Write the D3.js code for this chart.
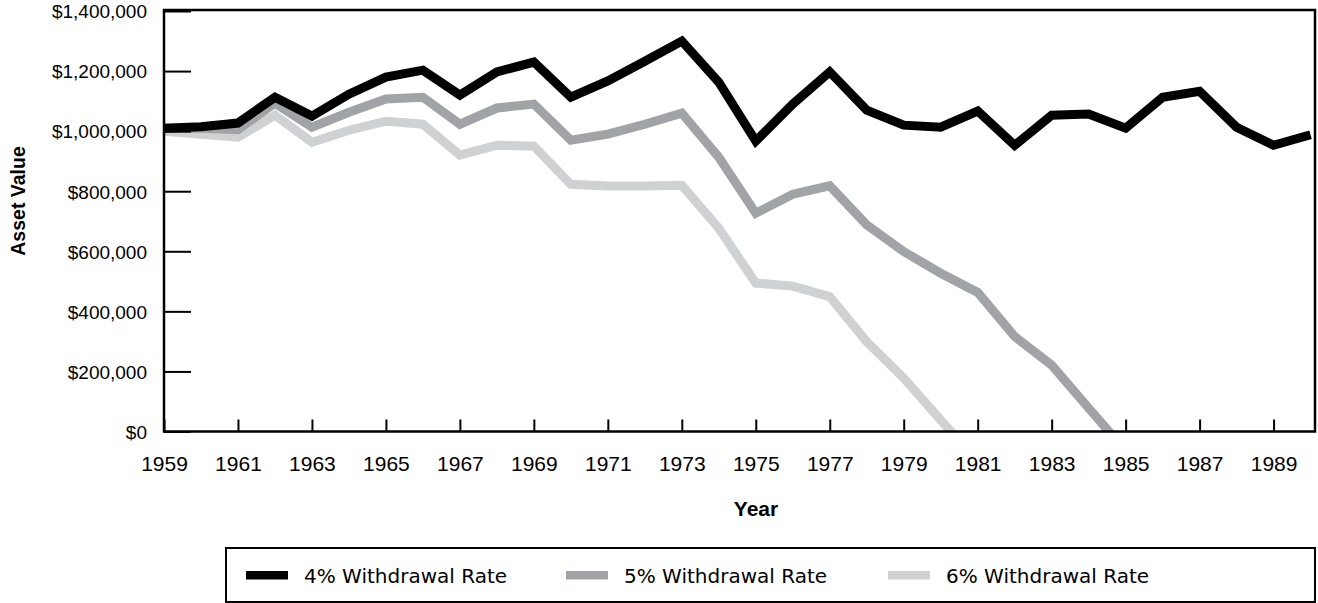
<!DOCTYPE html>
<html><head><meta charset="utf-8">
<script src="https://cdn.jsdelivr.net/npm/d3@7"></script>
<style>body{margin:0;background:#fff}svg{display:block}</style>
</head><body><svg id="c" width="1318" height="603" font-family="Liberation Sans, Arial, sans-serif"></svg>
<script>
const years = d3.range(1959, 1991);
const rate4 = [1010000,1015000,1027000,1113000,1050000,1123000,1180000,1203000,1120000,1197000,1230000,1113000,1167000,1233000,1300000,1163000,967000,1090000,1197000,1070000,1020000,1013000,1067000,953000,1053000,1057000,1010000,1113000,1133000,1013000,953000,988000];
const rate5 = [1010000,1010000,1005000,1093000,1013000,1063000,1107000,1113000,1023000,1077000,1090000,970000,990000,1023000,1060000,913000,727000,790000,818000,688000,599000,527000,463000,316000,221000,78000,-64000];
const rate6 = [1000000,990000,980000,1053000,963000,1003000,1033000,1023000,920000,953000,950000,823000,817000,817000,820000,677000,494000,484000,449000,299000,178000,38000,-100000];
const seriesNames = ["4% Withdrawal Rate","5% Withdrawal Rate","6% Withdrawal Rate"];
const seriesColors = ["#000000","#a1a3a6","#cfd1d2"];
const yTicks = [0,200000,400000,600000,800000,1000000,1200000,1400000];
const xTicks = d3.range(1959, 1991, 2);

const svg = d3.select("#c");
const L=164, R=1315, T=11, B=431.5;
const x = d3.scaleLinear().domain([1959, 1990.12]).range([L, R]);
const y = d3.scaleLinear().domain([0, 1400000]).range([B, T]);

svg.append("clipPath").attr("id","clip").append("rect").attr("x",L).attr("y",T).attr("width",R-L).attr("height",B-T);

const series = [rate4, rate5, rate6];
const line = d3.line().x((d,i)=>x(years[i])).y(d=>y(d));
series.slice().reverse().forEach((s,ri)=>{
  const i = 2-ri;
  svg.append("path").datum(s).attr("d",line).attr("fill","none")
    .attr("stroke",seriesColors[i]).attr("stroke-width",9).attr("stroke-linejoin","miter")
    .attr("clip-path","url(#clip)");
});

// frame
svg.append("rect").attr("x",L).attr("y",T-1).attr("width",R-L).attr("height",B-T+1)
  .attr("fill","none").attr("stroke","#000").attr("stroke-width",2.5);

// y axis ticks (inward)
const ya = svg.append("g").attr("transform",`translate(${L},0)`)
  .call(d3.axisLeft(y).tickValues(yTicks).tickSize(-27).tickFormat(d=>"$"+d3.format(",")(d)));
ya.select(".domain").remove();
ya.selectAll(".tick line").attr("stroke","#000").attr("stroke-width",2);
ya.selectAll(".tick text").attr("x",-17).attr("dy","0.36em").attr("font-size",19).attr("fill","#000")
  .style("font-family","Liberation Sans, Arial, sans-serif");

const xa = svg.append("g").attr("transform",`translate(0,${B})`)
  .call(d3.axisBottom(x).tickValues(xTicks).tickSize(-12).tickFormat(d3.format("d")));
xa.select(".domain").remove();
xa.selectAll(".tick line").attr("stroke","#000").attr("stroke-width",2);
xa.selectAll(".tick text").attr("y",39.5).attr("dy",0).attr("font-size",21).attr("fill","#000")
  .style("font-family","Liberation Sans, Arial, sans-serif");

svg.append("text").attr("x",756).attr("y",515.5).attr("text-anchor","middle")
  .attr("font-weight","bold").attr("font-size",21).text("Year");
svg.append("text").attr("transform","translate(25,201) rotate(-90)").attr("text-anchor","middle")
  .attr("font-weight","bold").attr("font-size",19.5).text("Asset Value");

// legend
svg.append("rect").attr("x",226).attr("y",548).attr("width",1089).attr("height",54)
  .attr("fill","none").attr("stroke","#000").attr("stroke-width",2);
const lx = [246, 566, 888];
seriesNames.forEach((n,i)=>{
  svg.append("rect").attr("x",lx[i]).attr("y",571).attr("width",42).attr("height",8.5).attr("fill",seriesColors[i]);
  svg.append("text").attr("x",lx[i]+58).attr("y",583).attr("font-size",20)
    .style("font-family","DejaVu Sans, sans-serif").text(n);
});
</script></body></html>
